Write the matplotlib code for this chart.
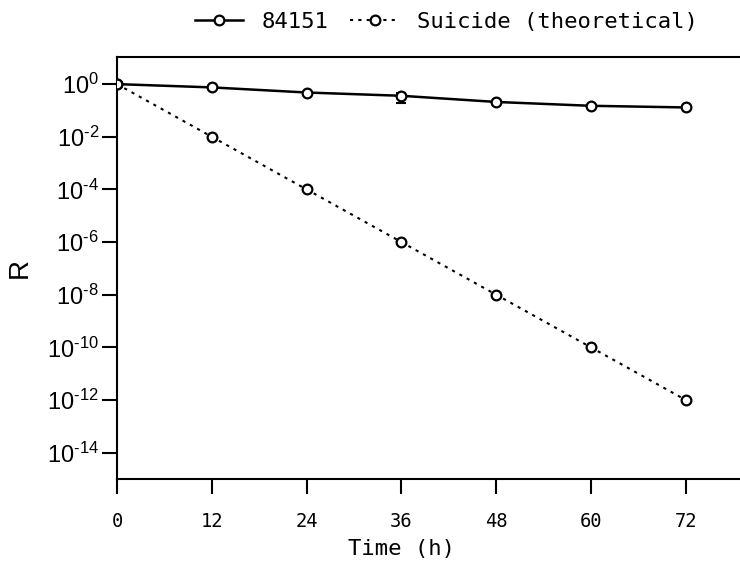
import numpy as np
import matplotlib
matplotlib.use('Agg')
import matplotlib.pyplot as plt

plt.rcParams['mathtext.fontset'] = 'custom'
plt.rcParams['mathtext.rm'] = 'Liberation Sans'
plt.rcParams['mathtext.it'] = 'Liberation Sans'

# survival ratio over time
time_h = [0, 12, 24, 36, 48, 60, 72]
r_84151 = [1.0, 0.75, 0.48, 0.36, 0.21, 0.15, 0.13]
err_low = [0, 0, 0, 0.16, 0, 0, 0]
err_high = [0, 0, 0, 0.10, 0, 0, 0]
r_suicide = [1e0, 1e-2, 1e-4, 1e-6, 1e-8, 1e-10, 1e-12]

y_ticks = [1e0, 1e-2, 1e-4, 1e-6, 1e-8, 1e-10, 1e-12, 1e-14]
y_labels = [r'$10^{0}$', r'$10^{\text{-}2}$', r'$10^{\text{-}4}$', r'$10^{\text{-}6}$',
            r'$10^{\text{-}8}$', r'$10^{\text{-}10}$', r'$10^{\text{-}12}$', r'$10^{\text{-}14}$']
x_ticks = [0, 12, 24, 36, 48, 60, 72]

mono = 'DejaVu Sans Mono'

fig = plt.figure(figsize=(7.4, 5.65), dpi=100)
ax = fig.add_axes([117 / 740, 1 - 479 / 565, 632 / 740, (479 - 57) / 565])

mk = dict(marker='o', ms=7, mfc='white', mec='black', mew=1.6)
ax.errorbar(time_h, r_84151, yerr=[err_low, err_high], fmt='none', ecolor='black',
            capsize=3.5, capthick=1.5, elinewidth=1.5, zorder=2)
ax.plot(time_h, r_84151, color='black', lw=1.8, label='84151', zorder=3, **mk)
ax.plot(time_h, r_suicide, color='black', lw=1.5, linestyle=(0, (1.5, 2.5)),
        label='Suicide (theoretical)', zorder=3, **mk)

ax.set_yscale('log')
ax.set_ylim(1e-15, 10 ** 1.03)
ax.set_xlim(0, 80)
ax.set_yticks(y_ticks)
ax.set_yticklabels(y_labels, fontsize=17)
ax.yaxis.set_minor_locator(matplotlib.ticker.NullLocator())
ax.set_xticks(x_ticks)
ax.set_xticklabels([str(t) for t in x_ticks], fontsize=13.5, family=mono)

for s in ax.spines.values():
    s.set_linewidth(1.5)
ax.spines['right'].set_visible(False)
ax.tick_params(axis='both', direction='out', length=11, width=1.5, color='black')
ax.tick_params(axis='x', pad=13)
ax.tick_params(axis='y', pad=2)

ax.set_ylabel('R', fontsize=20, family='Liberation Sans')
ax.yaxis.set_label_coords(-0.134, 0.5)
ax.set_xlabel('Time (h)', fontsize=16, family=mono)
ax.xaxis.set_label_coords(36 / 80, -0.143)

fig.legend(loc='center', bbox_to_anchor=(0.603, 0.961), ncol=2, frameon=False,
           prop={'family': mono, 'size': 16}, handlelength=2.2,
           columnspacing=1.0, handletextpad=0.8)

fig.savefig('out.png', dpi=100)
